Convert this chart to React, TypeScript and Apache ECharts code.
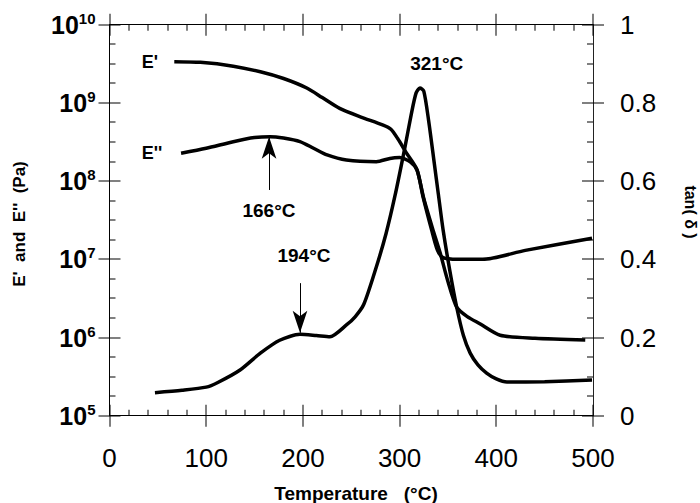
import React, { useEffect, useRef } from 'react';
import * as echarts from 'echarts';

const FONT = '"Liberation Sans", Arial, Helvetica, sans-serif';

// Temperature (°C), E' (Pa)
const ePrime: [number, number][] = [
  [67, 3.37e9], [94, 3.3e9], [128, 2.95e9], [156, 2.5e9], [180, 2.05e9], [204, 1.55e9],
  [220, 1.17e9], [238, 8.5e8], [260, 6.6e8], [283, 5.2e8], [291, 4.6e8], [298, 3.5e8],
  [307, 2.3e8], [318, 1.4e8], [324, 6.5e7], [333, 2.4e7], [339, 1.32e7], [345, 1.05e7],
  [360, 1.0e7], [386, 1.0e7], [430, 1.3e7], [499, 1.86e7],
];

// Temperature (°C), E'' (Pa)
const eDouble: [number, number][] = [
  [74, 2.27e8], [100, 2.63e8], [128, 3.19e8], [150, 3.6e8], [166, 3.7e8], [180, 3.55e8],
  [197, 3.2e8], [211, 2.63e8], [225, 2.16e8], [245, 1.86e8], [276, 1.77e8], [290, 1.95e8],
  [300, 2.0e8], [311, 1.77e8], [318, 1.38e8], [325, 6.0e7], [334, 2.5e7], [342, 1.2e7],
  [350, 5.2e6], [359, 2.45e6], [370, 1.85e6], [383, 1.5e6], [404, 1.07e6], [440, 9.8e5],
  [492, 9.3e5],
];

// Temperature (°C), tan(δ)
const tanDelta: [number, number][] = [
  [47, 0.059], [75, 0.065], [100, 0.073], [112, 0.085], [135, 0.117], [156, 0.16],
  [176, 0.193], [197, 0.208], [214, 0.205], [228, 0.202], [245, 0.232], [254, 0.253],
  [263, 0.285], [276, 0.381], [286, 0.466], [295, 0.56], [305, 0.68], [312, 0.77],
  [317, 0.825], [321, 0.838], [325, 0.83], [330, 0.755], [336, 0.643], [340, 0.568],
  [345, 0.475], [352, 0.37], [359, 0.278], [366, 0.205], [373, 0.16], [381, 0.13],
  [390, 0.109], [400, 0.094], [411, 0.086], [450, 0.087], [499, 0.091],
];

// Arrow annotations: [T, tail value, tip value]
const arrow166: [number, number, number] = [165, 7.7e7, 3.7e8];
const arrow194: [number, number, number] = [197, 0.339, 0.212];

// Axis ranges (left axis in decades of Pa)
const xMin = 0;
const xMax = 500;
const xStep = 100;
const decMin = 5;
const decMax = 10;
const tanMin = 0;
const tanMax = 1;
const tanStep = 0.2;

// Tick values
const xMajor = [0, 100, 200, 300, 400, 500];
const xMinor = [20, 40, 60, 80, 120, 140, 160, 180, 220, 240, 260, 280, 320, 340, 360, 380, 420, 440, 460, 480];
const decMajor = [5, 6, 7, 8, 9, 10];
const decMinor = [5.25, 5.5, 5.75, 6.25, 6.5, 6.75, 7.25, 7.5, 7.75, 8.25, 8.5, 8.75, 9.25, 9.5, 9.75];
const tanMajor = [0, 0.2, 0.4, 0.6, 0.8, 1];
const tanMinor = [0.05, 0.1, 0.15, 0.25, 0.3, 0.35, 0.45, 0.5, 0.55, 0.65, 0.7, 0.75, 0.85, 0.9, 0.95];

const BLK = '#000';
const MAJOR = 11;
const MINOR = 6;

const lg = (pts: [number, number][]) => pts.map(([t, v]) => [t, Math.log10(v)]);

function vTick(id: string, x: number, y1: number, y2: number) {
  return {
    id, type: 'rect', silent: true, z: 10,
    shape: { x: Math.round(x) - 0.5, y: Math.min(y1, y2), width: 1, height: Math.abs(y2 - y1) },
    style: { fill: BLK },
  };
}
function hTick(id: string, y: number, x1: number, x2: number) {
  return {
    id, type: 'rect', silent: true, z: 10,
    shape: { x: Math.min(x1, x2), y: Math.round(y) - 0.5, width: Math.abs(x2 - x1), height: 1 },
    style: { fill: BLK },
  };
}

export default function App() {
  const ref = useRef<HTMLDivElement>(null);

  useEffect(() => {
    if (!ref.current) return;
    const chart = echarts.init(ref.current, null, { renderer: 'svg' });

    const axLine = { color: BLK, width: 1 };
    const xCommon = {
      type: 'value', min: xMin, max: xMax, interval: xStep, splitLine: { show: false },
      axisLine: { show: true, onZero: false, lineStyle: axLine },
      axisTick: { show: false },
      minorTick: { show: false },
      minorSplitLine: { show: false },
    };

    const texts = [
      {
        id: 't1', type: 'text', x: 141.7, y: 62,
        style: { text: "E'", fontSize: 18, fontWeight: 'bold', fontFamily: FONT, fill: BLK, align: 'left', verticalAlign: 'middle' },
      },
      {
        id: 't2', type: 'text', x: 141.7, y: 153,
        style: { text: "E''", fontSize: 18, fontWeight: 'bold', fontFamily: FONT, fill: BLK, align: 'left', verticalAlign: 'middle' },
      },
      {
        id: 't3', type: 'text', x: 436.7, y: 63.3,
        style: { text: '321°C', fontSize: 19, fontWeight: 'bold', fontFamily: FONT, fill: BLK, align: 'center', verticalAlign: 'middle' },
      },
      {
        id: 't4', type: 'text', x: 269, y: 210,
        style: { text: '166°C', fontSize: 19, fontWeight: 'bold', fontFamily: FONT, fill: BLK, align: 'center', verticalAlign: 'middle' },
      },
      {
        id: 't5', type: 'text', x: 304, y: 255,
        style: { text: '194°C', fontSize: 19, fontWeight: 'bold', fontFamily: FONT, fill: BLK, align: 'center', verticalAlign: 'middle' },
      },
      {
        id: 't6', type: 'text', x: 356, y: 493,
        style: { text: 'Temperature   (°C)', fontSize: 19, fontWeight: 'bold', fontFamily: FONT, fill: BLK, align: 'center', verticalAlign: 'middle' },
      },
      {
        id: 't7', type: 'text', x: 19, y: 224, rotation: Math.PI / 2,
        style: { text: "E'  and  E''  (Pa)", fontSize: 17, fontWeight: 'bold', fontFamily: FONT, fill: BLK, align: 'center', verticalAlign: 'middle' },
      },
      {
        id: 't8', type: 'text', x: 690, y: 212, rotation: -Math.PI / 2,
        style: { text: 'tan( δ )', fontSize: 16, fontWeight: 'bold', fontFamily: FONT, fill: BLK, align: 'center', verticalAlign: 'middle' },
      },
    ];

    const option: any = {
      animation: false,
      backgroundColor: '#fff',
      grid: { left: 109.5, right: 107, top: 24.7, bottom: 87.3 },
      xAxis: [
        {
          ...xCommon, position: 'bottom',
          axisLabel: { show: true, fontSize: 26, margin: 29, color: BLK, fontFamily: FONT },
        },
        { ...xCommon, position: 'top', axisLabel: { show: false } },
      ],
      yAxis: [
        {
          type: 'value', min: decMin, max: decMax, interval: 1, position: 'left',
          axisLine: { show: true, onZero: false, lineStyle: axLine },
          axisTick: { show: false },
          minorTick: { show: false },
          splitLine: { show: false },
          minorSplitLine: { show: false },
          axisLabel: {
            show: true,
            margin: 14,
            formatter: (v: number) => `{b|10}{s|${Math.round(v)}}`,
            rich: {
              b: { fontSize: 25, fontWeight: 'bold', fontFamily: FONT, color: BLK, lineHeight: 28 },
              s: { fontSize: 15, fontWeight: 'bold', fontFamily: FONT, color: BLK, lineHeight: 20, verticalAlign: 'top' },
            },
          },
        },
        {
          type: 'value', min: tanMin, max: tanMax, interval: tanStep, position: 'right',
          axisLine: { show: true, onZero: false, lineStyle: { color: '#222', width: 1 } },
          axisTick: { show: false },
          minorTick: { show: false },
          splitLine: { show: false },
          minorSplitLine: { show: false },
          axisLabel: {
            show: true, margin: 27, fontSize: 26, color: BLK, fontFamily: FONT,
            formatter: (v: number) => (v === 0 ? '0' : v === 1 ? '1' : v.toFixed(1)),
          },
        },
      ],
      series: [
        {
          name: "E'", type: 'line', xAxisIndex: 0, yAxisIndex: 0, data: lg(ePrime),
          showSymbol: false, smooth: 0.25, lineStyle: { color: BLK, width: 3.5 },
        },
        {
          name: "E''", type: 'line', xAxisIndex: 0, yAxisIndex: 0, data: lg(eDouble),
          showSymbol: false, smooth: 0.25, lineStyle: { color: BLK, width: 3.5 },
          markLine: {
            silent: true, symbol: ['none', 'arrow'], symbolSize: [11, 22],
            label: { show: false },
            lineStyle: { color: BLK, width: 1, type: 'solid' },
            itemStyle: { color: BLK },
            data: [[
              { coord: [arrow166[0], Math.log10(arrow166[1])] },
              { coord: [arrow166[0], Math.log10(arrow166[2])] },
            ]],
          },
        },
        {
          name: 'tan(δ)', type: 'line', xAxisIndex: 0, yAxisIndex: 1, data: tanDelta,
          showSymbol: false, smooth: 0.25, lineStyle: { color: BLK, width: 3.5 },
          markLine: {
            silent: true, symbol: ['none', 'arrow'], symbolSize: [11, 22],
            label: { show: false },
            lineStyle: { color: BLK, width: 1, type: 'solid' },
            itemStyle: { color: BLK },
            data: [[{ coord: [arrow194[0], arrow194[1]] }, { coord: [arrow194[0], arrow194[2]] }]],
          },
        },
      ],
      graphic: texts,
    };

    chart.setOption(option);

    // Tick marks placed through the chart's own scales
    const toPx = (x: number, y: number, yi: number) =>
      chart.convertToPixel({ xAxisIndex: 0, yAxisIndex: yi }, [x, y]) as number[];
    const bottom = toPx(xMin, decMin, 0)[1];
    const top = toPx(xMin, decMax, 0)[1];
    const left = toPx(xMin, decMin, 0)[0];
    const right = toPx(xMax, decMin, 0)[0];
    const ticks: any[] = [];
    xMajor.forEach((v, i) => {
      const x = toPx(v, decMin, 0)[0];
      ticks.push(vTick(`xb${i}`, x, bottom - MAJOR, bottom + MAJOR));
      ticks.push(vTick(`xt${i}`, x, top - MAJOR, top + MAJOR));
    });
    xMinor.forEach((v, i) => {
      const x = toPx(v, decMin, 0)[0];
      ticks.push(vTick(`xbm${i}`, x, bottom - MINOR, bottom));
      ticks.push(vTick(`xtm${i}`, x, top, top + MINOR));
    });
    decMajor.forEach((v, i) => {
      const y = toPx(xMin, v, 0)[1];
      ticks.push(hTick(`l${i}`, y, left - MAJOR, left + MAJOR));
    });
    decMinor.forEach((v, i) => {
      const y = toPx(xMin, v, 0)[1];
      ticks.push(hTick(`lm${i}`, y, left, left + MINOR));
    });
    tanMajor.forEach((v, i) => {
      const y = toPx(xMin, v, 1)[1];
      ticks.push(hTick(`r${i}`, y, right - MAJOR, right + MAJOR));
    });
    tanMinor.forEach((v, i) => {
      const y = toPx(xMin, v, 1)[1];
      ticks.push(hTick(`rm${i}`, y, right - MINOR, right));
    });
    chart.setOption({ graphic: [...texts, ...ticks] });

    return () => chart.dispose();
  }, []);

  return (
    <div
      ref={ref}
      style={{ position: 'fixed', left: 0, top: 0, width: 700, height: 503, background: '#fff' }}
    />
  );
}
